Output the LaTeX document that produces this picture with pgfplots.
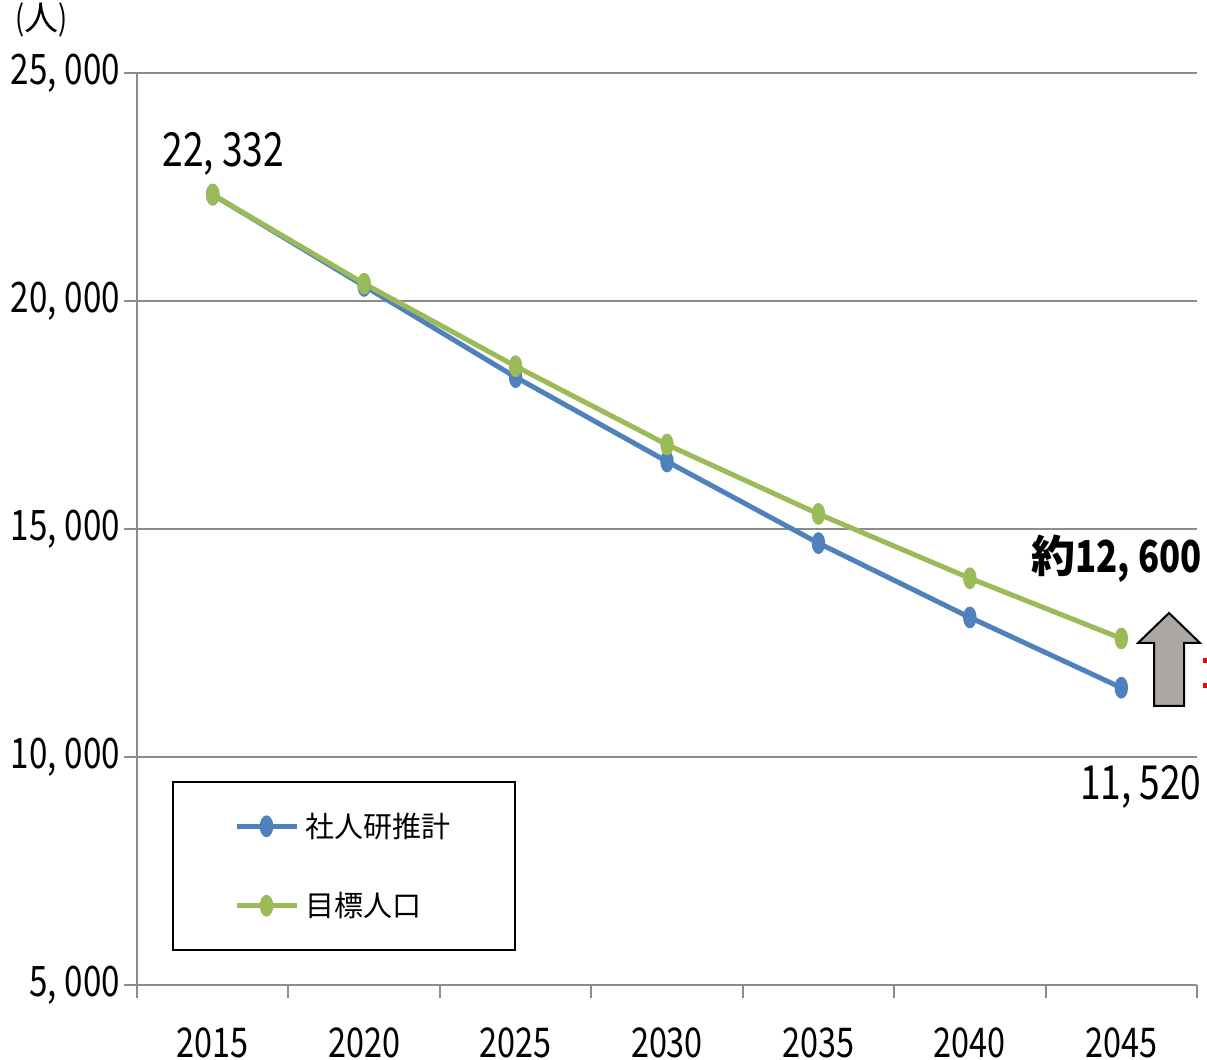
\documentclass[border=0pt]{standalone}
\usepackage{pgfplots}
\pgfplotsset{compat=1.18}
\usepackage{fontspec}
\setmainfont{Noto Sans CJK JP}
\newfontfamily\jp{Noto Sans CJK JP}
\newfontfamily\numf{Noto Sans CJK JP}[FakeStretch=0.79]
\definecolor{blueS}{RGB}{79,129,189}
\definecolor{greenS}{RGB}{155,187,89}
\definecolor{gridc}{RGB}{140,140,140}
\definecolor{arrowc}{RGB}{170,167,165}
\begin{document}
\begin{tikzpicture}
\begin{axis}[
  scale only axis, width=530pt, height=456pt,
  xmin=-0.5, xmax=6.5, ymin=5000, ymax=25000,
  scaled y ticks=false,
  axis x line*=bottom, axis y line*=left,
  axis line style={gridc, line width=1pt},
  xtick={-0.5,0.5,...,6.5},
  x tick label as interval,
  xticklabels={2015,2020,2025,2030,2035,2040,2045},
  ytick={5000,10000,15000,20000,25000},
  yticklabels={{5,\kern4pt000},{10,\kern4pt000},{15,\kern4pt000},{20,\kern4pt000},{25,\kern4pt000}},
  ymajorgrids, grid style={gridc, line width=1pt},
  tick align=outside, major tick length=6.5pt,
  tick style={gridc, line width=1pt},
  ticklabel style={font=\numf\fontsize{21}{21}\selectfont},
  xticklabel style={inner sep=0pt, yshift=-14.5pt, font=\numf\fontsize{20.5}{20.5}\selectfont},
  yticklabel style={xshift=1.5pt},
  clip=false,
  legend style={draw=none, fill=none, at={(0.1953,0.1305)}, anchor=center,
    font=\jp\fontsize{14.5}{14.5}\selectfont, row sep=22pt, column sep=1pt,
    nodes={inner sep=2pt}},
  legend cell align=left,
  legend image code/.code={\draw[#1, mark repeat=2, mark phase=2] plot coordinates {(0pt,0pt) (15pt,0pt) (30pt,0pt)};},
]
\addplot[blueS, line width=2.5pt, mark=*, mark size=4pt, mark options={solid, line width=0.5pt, xscale=0.78, yscale=1.3}]
  coordinates {(0,22332)(1,20330)(2,18330)(3,16480)(4,14690)(5,13060)(6,11520)};
\addlegendentry{社人研推計}
\addplot[greenS, line width=2.5pt, mark=*, mark size=4pt, mark options={solid, line width=0.5pt, xscale=0.78, yscale=1.3}]
  coordinates {(0,22332)(1,20380)(2,18570)(3,16850)(4,15330)(5,13920)(6,12600)};
\addlegendentry{目標人口}
\draw[black, line width=0.8pt] (rel axis cs:0.03396,0.03838) rectangle (rel axis cs:0.3566,0.2226);
\node[anchor=base, inner sep=0pt, font=\numf\fontsize{23.5}{23.5}\selectfont] at (axis cs:0.07,22940) {22,\kern4pt332};
\node[anchor=base east, inner sep=0pt, font=\numf\bfseries\fontsize{22}{22}\selectfont] at (axis cs:6.533,14035) {{\jp\bfseries\fontsize{22}{22}\selectfont 約}12,\kern4pt600};
\node[anchor=base east, inner sep=0pt, font=\numf\fontsize{23.5}{23.5}\selectfont] at (axis cs:6.533,9057) {11,\kern4pt520};
\end{axis}
\node[anchor=base west, inner sep=0pt, font=\numf\fontsize{17}{17}\selectfont] at (-61pt,477pt) {({\jp 人})};
\draw[black, line width=1pt, fill=arrowc] (516pt,186pt) -- (531.5pt,171pt) -- (523.5pt,171pt) -- (523.5pt,139.5pt) -- (508.5pt,139.5pt) -- (508.5pt,171pt) -- (500.5pt,171pt) -- cycle;
\fill[red] (533pt,161pt) rectangle (535pt,163.5pt);
\fill[red] (533pt,148.5pt) rectangle (535pt,151pt);
\pgfresetboundingbox
\useasboundingbox (-68.5pt,-37.5pt) rectangle (535pt,492.5pt);
\end{tikzpicture}
\end{document}
